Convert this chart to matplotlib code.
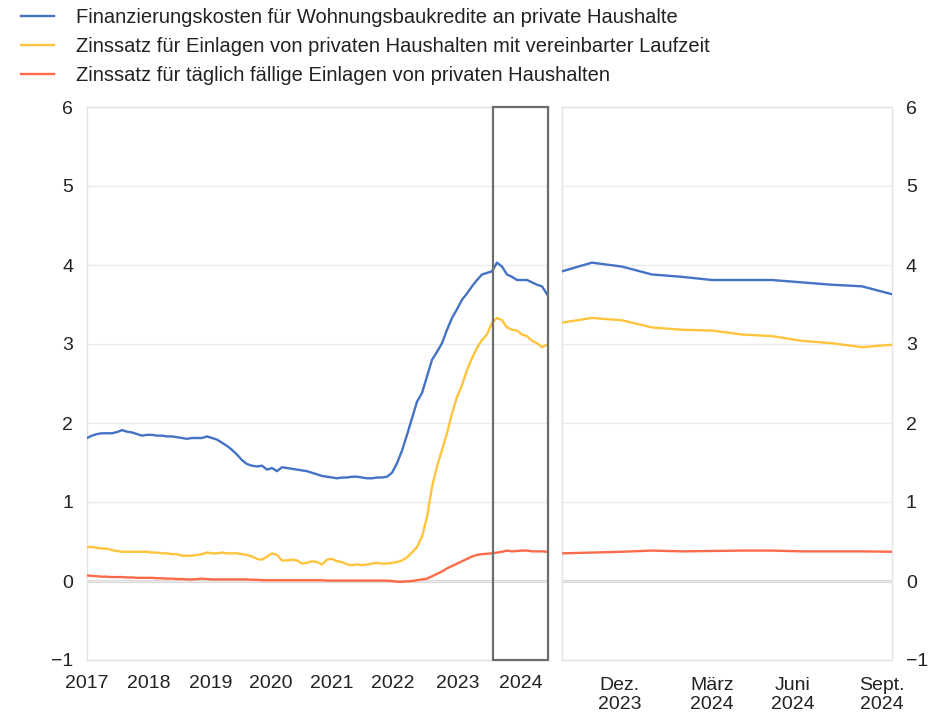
import matplotlib
matplotlib.use("Agg")
import matplotlib.pyplot as plt
from matplotlib.patches import Rectangle

plt.rcParams['font.family'] = ['Liberation Sans', 'DejaVu Sans']

# Monthly data, Jan 2017 (index 0) to Sep 2024 (index 92)
kredit = [1.81, 1.84, 1.86, 1.87, 1.87, 1.87, 1.885, 1.91, 1.89, 1.88, 1.86, 1.84,
          1.85, 1.85, 1.84, 1.84, 1.83, 1.83, 1.82, 1.81, 1.80, 1.81, 1.81, 1.81,
          1.83, 1.81, 1.79, 1.75, 1.71, 1.66, 1.60, 1.53, 1.48, 1.46, 1.45, 1.46,
          1.41, 1.43, 1.39, 1.44, 1.43, 1.42, 1.41, 1.40, 1.39, 1.37, 1.35, 1.33,
          1.32, 1.31, 1.30, 1.31, 1.31, 1.32, 1.32, 1.31, 1.30, 1.30, 1.31, 1.31,
          1.32, 1.37, 1.49, 1.65, 1.85, 2.06, 2.27, 2.38, 2.59, 2.80, 2.90, 3.01,
          3.18, 3.33, 3.44, 3.56, 3.64, 3.73, 3.81, 3.88, 3.90, 3.92, 4.03, 3.98,
          3.88, 3.85, 3.81, 3.81, 3.81, 3.78, 3.75, 3.73, 3.63]
einlagen_lz = [0.43, 0.43, 0.42, 0.41, 0.41, 0.39, 0.38, 0.37, 0.37, 0.37, 0.37, 0.37,
               0.37, 0.36, 0.36, 0.35, 0.35, 0.34, 0.34, 0.32, 0.32, 0.32, 0.33, 0.34,
               0.36, 0.35, 0.35, 0.36, 0.35, 0.35, 0.35, 0.34, 0.33, 0.31, 0.28, 0.27,
               0.31, 0.35, 0.33, 0.26, 0.26, 0.27, 0.26, 0.22, 0.23, 0.25, 0.24, 0.21,
               0.27, 0.28, 0.25, 0.24, 0.21, 0.20, 0.21, 0.20, 0.21, 0.22, 0.23, 0.22,
               0.22, 0.23, 0.24, 0.26, 0.30, 0.36, 0.43, 0.56, 0.81, 1.19, 1.45, 1.66,
               1.87, 2.12, 2.33, 2.48, 2.67, 2.82, 2.95, 3.05, 3.12, 3.27, 3.33, 3.30,
               3.21, 3.18, 3.17, 3.12, 3.10, 3.04, 3.01, 2.96, 2.99]
einlagen_tf = [0.07, 0.065, 0.06, 0.055, 0.055, 0.05, 0.05, 0.05, 0.045, 0.045, 0.04, 0.04,
               0.04, 0.04, 0.035, 0.035, 0.03, 0.03, 0.025, 0.025, 0.02, 0.02, 0.025, 0.03,
               0.025, 0.02, 0.02, 0.02, 0.02, 0.02, 0.02, 0.02, 0.02, 0.015, 0.015, 0.01,
               0.01, 0.01, 0.01, 0.01, 0.01, 0.01, 0.01, 0.01, 0.01, 0.01, 0.01, 0.01,
               0.005, 0.005, 0.005, 0.005, 0.005, 0.005, 0.005, 0.005, 0.005, 0.005, 0.005, 0.005,
               0.005, 0.0, -0.01, -0.01, -0.005, 0.0, 0.01, 0.02, 0.03, 0.06, 0.09, 0.12,
               0.16, 0.19, 0.22, 0.25, 0.28, 0.31, 0.33, 0.34, 0.345, 0.35, 0.36, 0.37,
               0.385, 0.375, 0.38, 0.385, 0.385, 0.375, 0.375, 0.375, 0.37]

labels = ["Finanzierungskosten für Wohnungsbaukredite an private Haushalte",
          "Zinssatz für Einlagen von privaten Haushalten mit vereinbarter Laufzeit",
          "Zinssatz für täglich fällige Einlagen von privaten Haushalten"]
colors = ["#4472C4", "#FFC43D", "#FF6B4A"]

year_labels = ["2017", "2018", "2019", "2020", "2021", "2022", "2023", "2024"]
year_tick_pos = [0, 12.4, 24.8, 36.8, 49.0, 61.2, 74.2, 86.8]
recent_labels = ["Dez.\n2023", "März\n2024", "Juni\n2024", "Sept.\n2024"]
recent_tick_pos = [1.93, 5.0, 7.7, 10.67]
n_recent = 12
yticks = [-1, 0, 1, 2, 3, 4, 5, 6]

W, H = 930, 718
fig = plt.figure(figsize=(W / 100, H / 100), dpi=100)
ax1 = fig.add_axes([87 / W, 1 - 660 / H, 461 / W, 553 / H])
ax2 = fig.add_axes([562 / W, 1 - 660 / H, 330 / W, 553 / H])

series = [kredit, einlagen_lz, einlagen_tf]
x_all = list(range(len(kredit)))
x_rec = list(range(n_recent))
handles = []
for s, c, lab in zip(series, colors, labels):
    h, = ax1.plot(x_all, s, color=c, lw=1.7, label=lab, zorder=3)
    ax2.plot(x_rec, s[-n_recent:], color=c, lw=1.7, zorder=3)
    handles.append(h)

grid_c = "#ebebeb"
for ax in (ax1, ax2):
    ax.set_ylim(-1, 6)
    ax.set_yticks(yticks)
    ax.set_yticklabels([str(t).replace("-", "\u2212") for t in yticks])
    ax.grid(axis='y', color=grid_c, lw=1, zorder=0)
    ax.axhline(0, color="#d6d6d6", lw=2.2, zorder=1)
    for sp in ax.spines.values():
        sp.set_color("#e4e4e4")
        sp.set_linewidth(1)
    ax.tick_params(length=0, labelsize=14, colors="#222222")

ax1.set_xlim(0, 92.2)
ax1.set_xticks(year_tick_pos)
ax1.set_xticklabels(year_labels)
ax1.tick_params(axis='x', pad=11)
ax1.tick_params(axis='y', pad=10)

ax2.set_xlim(0, n_recent - 1)
ax2.set_xticks(recent_tick_pos)
ax2.set_xticklabels(recent_labels, linespacing=1.2)
ax2.tick_params(axis='x', pad=12)
ax2.yaxis.tick_right()
ax2.tick_params(axis='y', pad=10)

box = Rectangle((81.2, -1), 11.0, 7, fill=False, edgecolor="#6e6e6e", lw=1.6,
                clip_on=False, zorder=5)
ax1.add_patch(box)

fig.legend(handles=handles, labels=labels, loc='upper left',
           bbox_to_anchor=(21 / W, 1 - 8 / H), frameon=False, fontsize=14.5,
           handlelength=1.65, handletextpad=1.1, labelspacing=0.5,
           borderpad=0, borderaxespad=0, labelcolor="#222222")

fig.savefig("out.png", dpi=100)
